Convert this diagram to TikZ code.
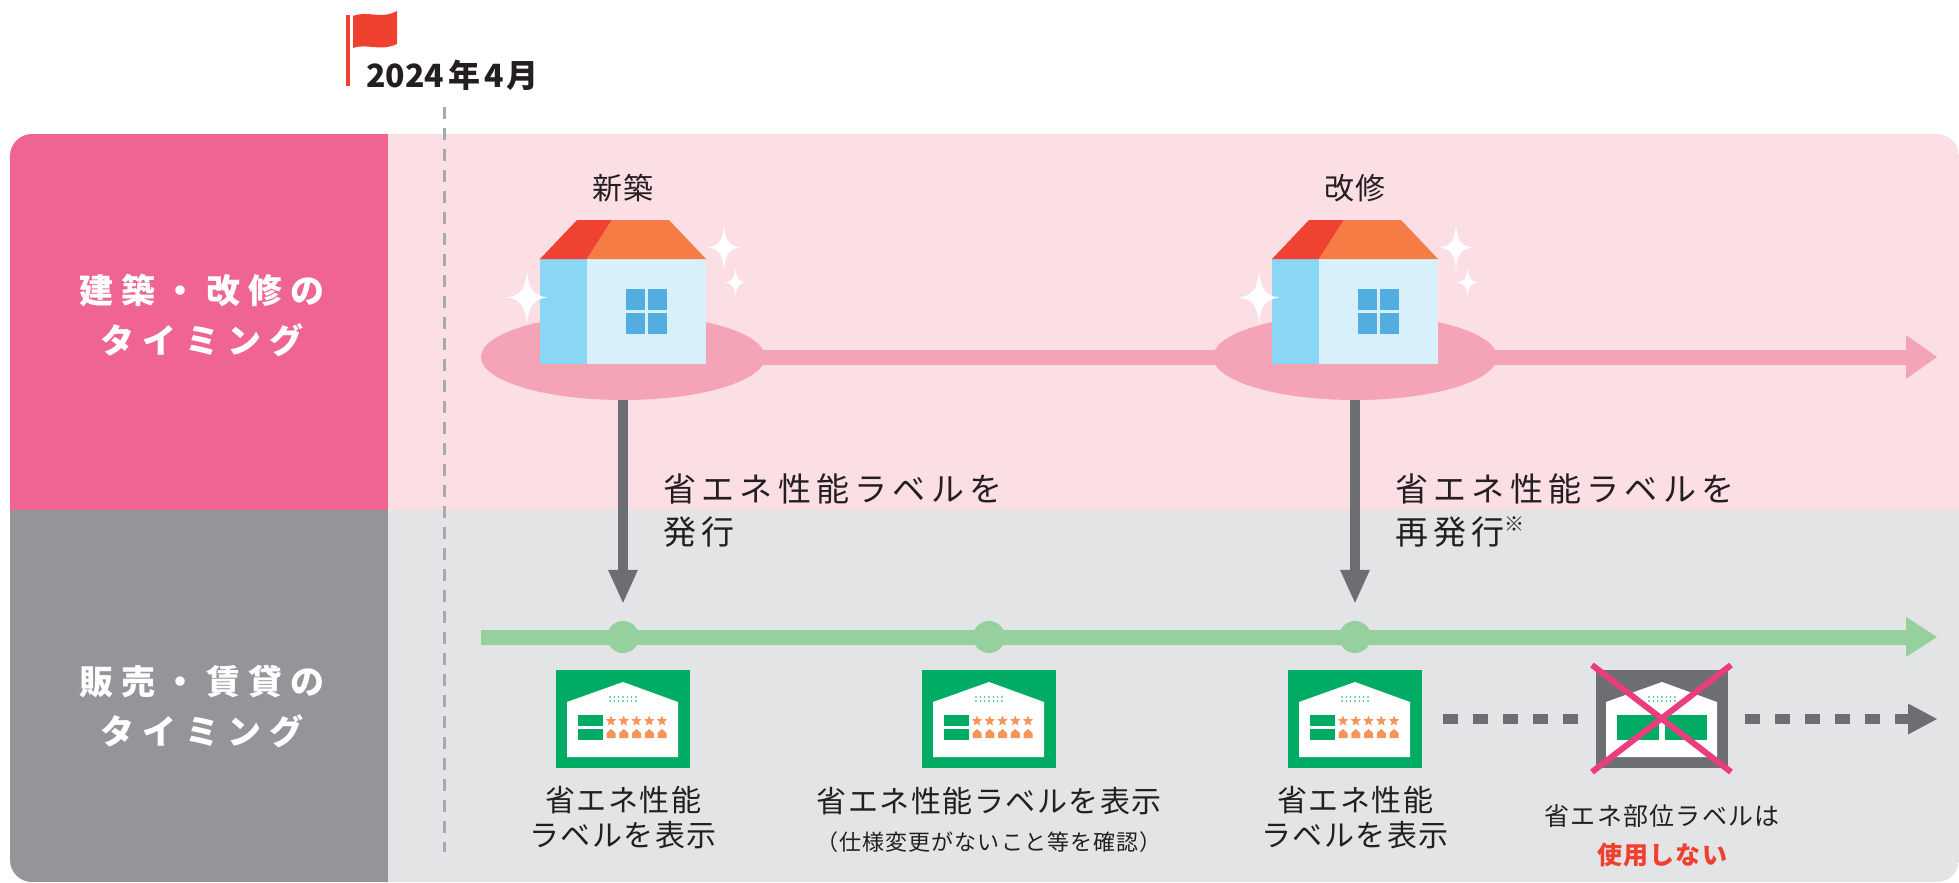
\documentclass[tikz,border=0pt]{standalone}
\usepackage{fontspec}
\setmainfont{Noto Sans CJK JP}
\newfontfamily\rowfont[LetterSpace=24]{Noto Sans CJK JP}
\newfontfamily\notefont[LetterSpace=16]{Noto Sans CJK JP}
\newfontfamily\labelfont[LetterSpace=5]{Noto Sans CJK JP}
\usetikzlibrary{positioning,arrows.meta,shapes.geometric}

\definecolor{rowpink}{HTML}{F06491}
\definecolor{bgpink}{HTML}{FCDFE5}
\definecolor{rowgray}{HTML}{939598}
\definecolor{bggray}{HTML}{E3E4E6}
\definecolor{linepink}{HTML}{F5A3B6}
\definecolor{darkgray}{HTML}{6D6E71}
\definecolor{linegreen}{HTML}{95D09E}
\definecolor{labelgreen}{HTML}{00AB63}
\definecolor{starorange}{HTML}{F7945A}
\definecolor{roofred}{HTML}{EF4230}
\definecolor{rooforange}{HTML}{F57C45}
\definecolor{wallside}{HTML}{8AD6F5}
\definecolor{wallfront}{HTML}{D8F0FA}
\definecolor{winblue}{HTML}{52AEE0}
\definecolor{crosspink}{HTML}{EB3C7E}
\definecolor{textdark}{HTML}{231F20}
\definecolor{flagred}{HTML}{EF4030}
\definecolor{dashgray}{HTML}{A7A9AC}

\begin{document}
\begin{tikzpicture}[x=1pt, y=-1pt,
        pinkline/.style={draw=linepink, line width=15pt},
        greenline/.style={draw=linegreen, line width=15pt},
        downarrow/.style={draw=darkgray, line width=10pt, -{Triangle[length=33pt,width=30pt,line width=0pt]}},
        dotarrow/.style={draw=darkgray, line width=10pt, dash pattern=on 15pt off 15pt},
        crossline/.style={draw=crosspink, line width=6pt},
        stopdot/.style={circle, fill=linegreen, minimum size=32pt, inner sep=0pt},
        housebase/.style={ellipse, fill=linepink, minimum width=284pt, minimum height=86pt, inner sep=0pt},
        labelbox/.style={rectangle, fill=labelgreen, minimum width=134pt, minimum height=98pt, inner sep=0pt},
        partbox/.style={rectangle, fill=darkgray, minimum width=132pt, minimum height=98pt, inner sep=0pt},
        ministar/.style={star, star points=5, star point ratio=2.3, fill=starorange, minimum size=11pt, inner sep=0pt},
        rowtitle/.style={text=white, align=center, inner sep=0pt, font=\rowfont\bfseries\fontsize{34pt}{50pt}\selectfont},
        notetext/.style={text=textdark, align=left, inner sep=0pt, font=\notefont\fontsize{33pt}{43pt}\selectfont},
        labeltext/.style={text=textdark, align=center, inner sep=0pt, font=\labelfont\fontsize{30pt}{35pt}\selectfont},
        smalltext/.style={text=textdark, inner sep=0pt, font=\labelfont\fontsize{22pt}{26pt}\selectfont},
        parttext/.style={text=textdark, inner sep=0pt, font=\labelfont\fontsize{25pt}{30pt}\selectfont},
        % house standing on its base, origin at the bottom centre
        house/.pic={
            \fill[wallside] (-83,-105) rectangle (-36,0);
            \fill[wallfront] (-36,-105) rectangle (83,0);
            \fill[roofred] (-83,-105) -- (-46,-144) -- (-11,-144) -- (-36,-105) -- cycle;
            \fill[rooforange] (-36,-105) -- (-11,-144) -- (46,-144) -- (83,-105) -- cycle;
            \foreach \wx in {3,25}
                \foreach \wy in {-75,-51}
                    \fill[winblue] (\wx,\wy) rectangle ++(19,21);
            \foreach \sx/\sy/\sw/\sh in {101/-116.5/16/22.5, 112.5/-81.5/10.5/14.5, -96/-66.5/20/27.5}
                \fill[white, shift={(\sx,\sy)}, xscale=\sw, yscale=\sh]
                    (0,-1) .. controls (0.08,-0.3) and (0.3,-0.08) .. (1,0)
                    .. controls (0.3,0.08) and (0.08,0.3) .. (0,1)
                    .. controls (-0.08,0.3) and (-0.3,0.08) .. (-1,0)
                    .. controls (-0.3,-0.08) and (-0.08,-0.3) .. cycle;
        },
        % energy label drawn inside its box
        labelface/.pic={
            \fill[white] (-56,38) -- (-56,-17) -- (0,-37) -- (55,-17) -- (55,38) -- cycle;
            \foreach \i in {0,...,6}
                \foreach \j in {0,1}
                    \fill[labelgreen] (-13+4.33*\i,-22+4*\j) circle (0.8pt);
            \fill[labelgreen] (-45,-4) rectangle (-20,7);
            \fill[labelgreen] (-45,10) rectangle (-20,21);
            \foreach \k in {0,...,4} {
                \node[ministar] (star\k) at (-12+12.75*\k,2) {};
                \fill[starorange] (-16.5+12.75*\k,19) -- ++(0,-5) -- ++(4.5,-4) -- ++(4.5,4) -- ++(0,5) -- cycle;
            }
        },
        partface/.pic={
            \fill[white] (-56,38) -- (-56,-17) -- (0,-37) -- (55,-17) -- (55,38) -- cycle;
            \foreach \i in {0,...,6}
                \foreach \j in {0,1}
                    \fill[labelgreen] (-13+4.33*\i,-22+4*\j) circle (0.8pt);
            \fill[labelgreen] (-45,-4) rectangle (-3,21);
            \fill[labelgreen] (3,-4) rectangle (45,21);
        },
    ]
    \useasboundingbox (0,0) rectangle (1959,883);

    % the two rows
    \begin{scope}
        \clip[rounded corners=22pt] (10,134) rectangle (1959,882);
        \fill[bgpink] (388,134) rectangle (1959,510);
        \fill[bggray] (388,510) rectangle (1959,882);
        \fill[rowpink] (10,134) rectangle (388,510);
        \fill[rowgray] (10,510) rectangle (388,882);
    \end{scope}
    \node[rowtitle] (RowBuild) at (202,315) {建築・改修の\\タイミング};
    \node[rowtitle] (RowSale) at (202,706) {販売・賃貸の\\タイミング};

    % start date
    \draw[dashgray, line width=3pt, dash pattern=on 12pt off 9pt] (444,107) -- (444,852);
    \fill[flagred] (346,15) rectangle (350,86);
    \fill[flagred] (353,16) .. controls (368,10) and (380,20) .. (397,11) -- (397,44)
        .. controls (380,52) and (368,43) .. (353,48) -- cycle;
    \node[anchor=base west, inner sep=0pt, text=textdark, font=\bfseries\fontsize{32pt}{32pt}\selectfont]
        (Start) at (366,88) {2024\hspace{4pt}年\hspace{4pt}4\hspace{3pt}月};

    % construction and renovation
    \node[housebase] (NewBase) at (623,357) {};
    \node[housebase] (RenoBase) at (1355,357) {};
    \coordinate (PinkEnd) at (1937,357);
    \draw[pinkline, shorten <=-4pt, shorten >=-4pt] (NewBase) -- (RenoBase);
    \draw[pinkline, shorten <=-4pt, -{Triangle[length=31pt,width=44pt,line width=0pt]}] (RenoBase) -- (PinkEnd);
    \pic (NewHouse) at (623,364) {house};
    \pic (RenoHouse) at (1355,364) {house};
    \node[labeltext] (NewTitle) at (623,188) {新築};
    \node[labeltext] (RenoTitle) at (1355,188) {改修};

    % sale and rent
    \coordinate (GreenStart) at (481,637);
    \coordinate (GreenEnd) at (1937,637);
    \draw[greenline, -{Triangle[length=31pt,width=40pt,line width=0pt]}] (GreenStart) -- (GreenEnd);
    \node[stopdot] (Stop1) at (623,637) {};
    \node[stopdot] (Stop2) at (989,637) {};
    \node[stopdot] (Stop3) at (1355,637) {};

    \draw[downarrow, shorten >=18pt] (NewBase) -- (Stop1);
    \draw[downarrow, shorten >=18pt] (RenoBase) -- (Stop3);
    \node[notetext, anchor=west] (IssueNew) at (663,511) {省エネ性能ラベルを\\発行};
    \node[notetext, anchor=west] (IssueReno) at (1395,511)
        {省エネ性能ラベルを\\再発行\raisebox{13pt}{\fontsize{20pt}{20pt}\selectfont ※}};

    % labels
    \node[labelbox] (Label1) at (623,719) {};
    \node[labelbox] (Label2) at (989,719) {};
    \node[labelbox] (Label3) at (1355,719) {};
    \node[partbox] (Label4) at (1662,719) {};
    \pic (Face1) at (Label1) {labelface};
    \pic (Face2) at (Label2) {labelface};
    \pic (Face3) at (Label3) {labelface};
    \pic (Face4) at (Label4) {partface};
    \draw[crossline] ([shift={(-70,-54)}]Label4.center) -- ([shift={(69,53)}]Label4.center);
    \draw[crossline] ([shift={(69,-54)}]Label4.center) -- ([shift={(-70,53)}]Label4.center);

    \coordinate (DashEnd) at (1937,719);
    \draw[dotarrow, shorten <=21pt, shorten >=18pt] (Label3) -- (Label4);
    \draw[dotarrow, shorten <=17pt, -{Triangle[length=29pt,width=31pt,line width=0pt]}] (Label4) -- (DashEnd);

    \node[labeltext] (Show1) at (623,818) {省エネ性能\\ラベルを表示};
    \node[labeltext] (Show2) at (989,801) {省エネ性能ラベルを表示};
    \node[smalltext] (Check2) at (989,842) {（仕様変更がないこと等を確認）};
    \node[labeltext] (Show3) at (1355,818) {省エネ性能\\ラベルを表示};
    \node[parttext] (Part4) at (1662,816) {省エネ部位ラベルは};
    \node[parttext, text=flagred, font=\labelfont\bfseries\fontsize{25pt}{30pt}\selectfont] (NoUse4) at (1662,855) {使用しない};

\end{tikzpicture}
\end{document}
